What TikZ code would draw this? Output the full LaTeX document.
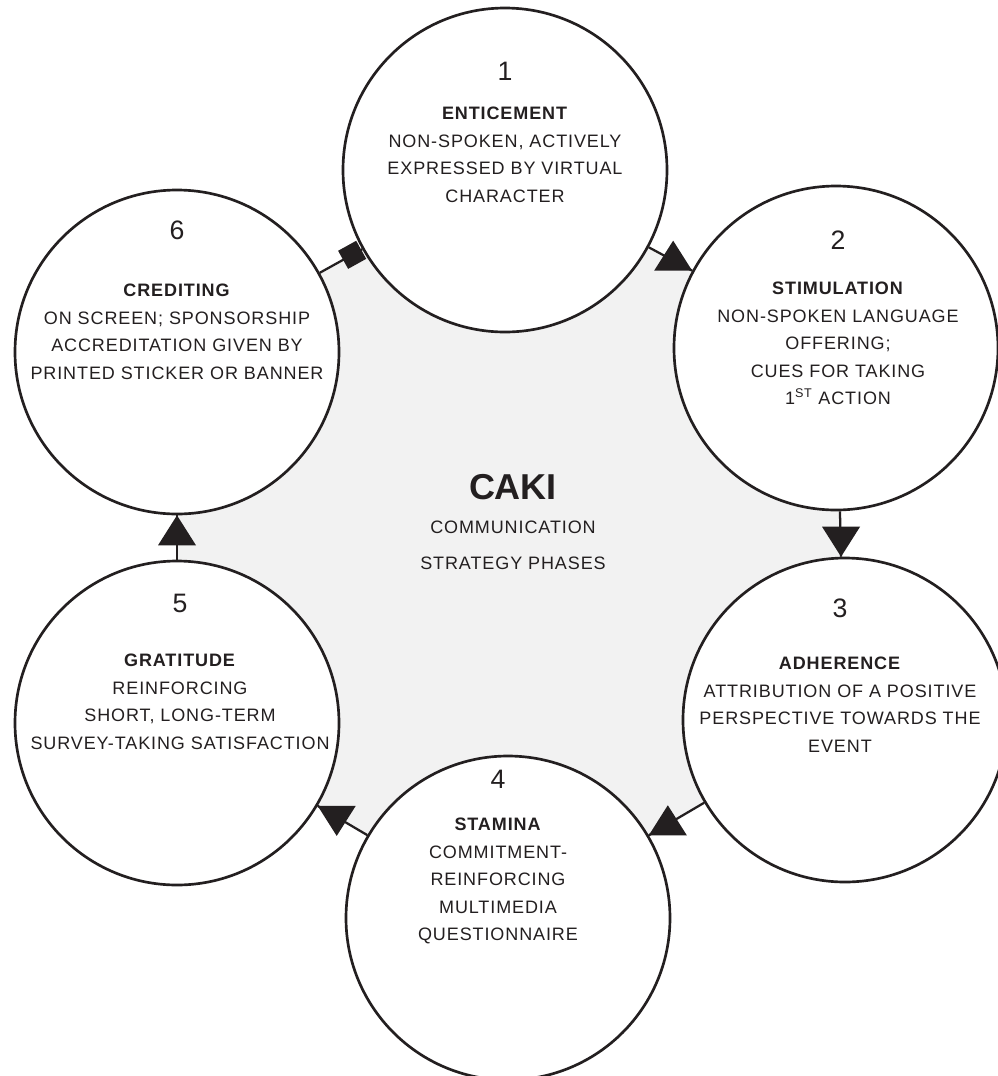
\documentclass[tikz,border=0pt]{standalone}
\usepackage{fontspec}
\setmainfont{Liberation Sans}[LetterSpace=5]
\newfontfamily\titlefont{Liberation Sans}
\usetikzlibrary{calc,backgrounds}
\definecolor{ink}{HTML}{231F20}
\definecolor{hub}{HTML}{F2F2F2}

\begin{document}
\begin{tikzpicture}[x=0.75pt,y=-0.75pt,
  phase/.style={circle, draw=ink, line width=2pt, fill=white,
                minimum size=243pt, inner sep=0pt},
  link/.style={draw=ink, line width=1.7pt},
  num/.style={text=ink, inner sep=0pt, font=\fontsize{20}{24}\selectfont},
  body/.style={text=ink, align=center, anchor=north, inner sep=0pt,
               font=\fontsize{13.5}{20.6}\selectfont},
  mid/.style={text=ink, inner sep=0pt, font=\fontsize{13.5}{20.6}\selectfont},
  tip/.style={fill=ink}
]
\useasboundingbox (0,0) rectangle (998,1076);

% the six phases
\node[phase] (c1) at (505,170) {};
\node[phase] (c2) at (836,348) {};
\node[phase] (c3) at (845,720) {};
\node[phase] (c4) at (508,918) {};
\node[phase] (c5) at (177,723) {};
\node[phase] (c6) at (177,352) {};

% connectors between neighbouring phases
\draw[link] (c1) -- (c2) coordinate[pos=0] (a12) coordinate[pos=1] (b12);
\draw[link] (c2) -- (c3) coordinate[pos=0] (a23) coordinate[pos=1] (b23);
\draw[link] (c3) -- (c4) coordinate[pos=0] (a34) coordinate[pos=1] (b34);
\draw[link] (c4) -- (c5) coordinate[pos=0] (a45) coordinate[pos=1] (b45);
\draw[link] (c5) -- (c6) coordinate[pos=0] (a56) coordinate[pos=1] (b56);
\draw[link] (c6) -- (c1) coordinate[pos=0] (a61) coordinate[pos=1] (b61)
  node[pos=1, sloped, anchor=east, fill=ink, minimum size=15.5pt, inner sep=0pt] (m61) {};

% arrow heads
\fill[tip] (b12) -- ++(-38,0) -- ++(19,-30) -- cycle;
\fill[tip] (b23) -- ++(-19,-30) -- ++(38,0) -- cycle;
\fill[tip] (b34) -- ++(38,0) -- ++(-19,-30) -- cycle;
\fill[tip] (b45) -- ++(38,0) -- ++(-19,30) -- cycle;
\fill[tip] (b56) -- ++(-19,30) -- ++(38,0) -- cycle;

% shaded hub between the circles
\begin{scope}[on background layer]
  \fill[hub] (b61) -- (a12) -- (b12) -- (a23) -- (b23) -- (a34) -- (b34)
    -- (a45) -- (b45) -- (a56) -- (b56) -- (a61) -- cycle;
\end{scope}

% centre title
\node[text=ink, inner sep=0pt, font=\titlefont\fontsize{27}{32}\selectfont\bfseries] (caki) at (513,487) {CAKI};
\node[mid] (comm) at (513,527) {COMMUNICATION};
\node[mid] (strat) at (513,563) {STRATEGY PHASES};

% phase texts
\node[num] (n1) at (505,71) {1};
\node[body] (t1) at (505,107) {\textbf{ENTICEMENT}\\NON-SPOKEN, ACTIVELY\\EXPRESSED BY VIRTUAL\\CHARACTER};

\node[num] (n2) at (838,240) {2};
\node[body] (t2) at (838,282) {\textbf{STIMULATION}\\NON-SPOKEN LANGUAGE\\OFFERING;\\CUES FOR TAKING\\1\textsuperscript{ST} ACTION};

\node[num] (n3) at (840,608) {3};
\node[body] (t3) at (840,657) {\textbf{ADHERENCE}\\ATTRIBUTION OF A POSITIVE\\PERSPECTIVE TOWARDS THE\\EVENT};

\node[num] (n4) at (498,779) {4};
\node[body] (t4) at (498,818) {\textbf{STAMINA}\\COMMITMENT-\\REINFORCING\\MULTIMEDIA\\QUESTIONNAIRE};

\node[num] (n5) at (180,603) {5};
\node[body] (t5) at (180,654) {\textbf{GRATITUDE}\\REINFORCING\\SHORT, LONG-TERM\\SURVEY-TAKING SATISFACTION};

\node[num] (n6) at (177,230) {6};
\node[body] (t6) at (177,284) {\textbf{CREDITING}\\ON SCREEN; SPONSORSHIP\\ACCREDITATION GIVEN BY\\PRINTED STICKER OR BANNER};
\end{tikzpicture}
\end{document}
